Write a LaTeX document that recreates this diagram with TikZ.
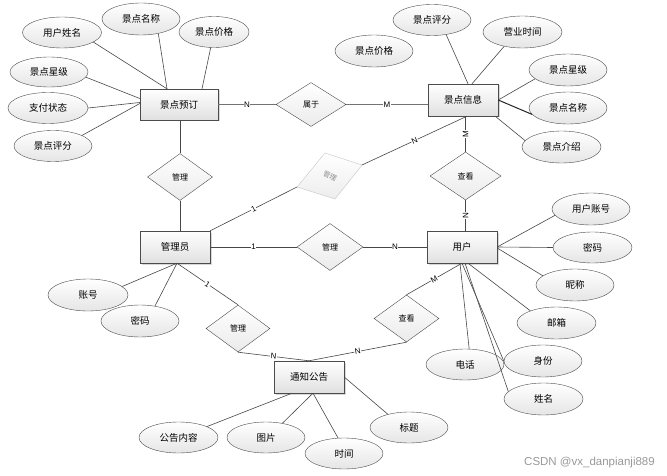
\documentclass[tikz,border=0pt]{standalone}
\usepackage{fontspec}
\setmainfont{Liberation Sans}
\newfontfamily\cjk{Noto Sans CJK SC}
\usetikzlibrary{shapes.geometric,calc,shadows}

\begin{document}
\begin{tikzpicture}[x=1pt,y=-1pt,
  ent/.style={draw=black!70, rectangle, minimum width=70pt, minimum height=32pt,
    top color=white, bottom color=black!12, inner sep=0pt,
    drop shadow={shadow xshift=1.5pt,shadow yshift=-1.5pt,opacity=0.3},
    font=\cjk\fontsize{9.5}{11}\selectfont},
  attr/.style={draw=black!70, ellipse, minimum width=78pt, minimum height=31pt,
    top color=white, bottom color=black!10, inner sep=0pt,
    font=\cjk\fontsize{9.5}{11}\selectfont},
  rel/.style={draw=black!70, diamond, minimum width=65pt, minimum height=47pt,
    top color=white, bottom color=black!8, inner sep=0pt,
    font=\cjk\fontsize{8}{9}\selectfont},
  conn/.style={draw=black!72, line width=0.6pt},
  thick conn/.style={draw=black!55, line width=1.1pt},
  lab/.style={fill=white, inner sep=0.5pt, font=\fontsize{8}{9}\selectfont},
  wm/.style={text=black!40, font=\fontsize{11.5}{13}\selectfont}
]
\fill[white] (0,0) rectangle (667,476);
\useasboundingbox (0,0) rectangle (667,476);

% entities
\node[ent, minimum width=78pt, minimum height=31pt] (jdyd) at (179,104.5) {景点预订};
\node[ent] (jdxx) at (463,100) {景点信息};
\node[ent] (gly) at (175,247) {管理员};
\node[ent] (yh) at (462,247) {用户};
\node[ent] (tzgg) at (309,377) {通知公告};

% relations
\node[rel, minimum width=70pt, minimum height=44pt] (sy) at (311,104.5) {属于};
\node[rel] (gl1) at (180,177) {管理};
\node[rel, minimum width=66pt, minimum height=47pt] (gl2) at (330,247) {管理};
\node[rel, minimum width=71pt, minimum height=48pt] (ck1) at (465.5,176) {查看};
\node[rel, minimum width=64pt] (gl3) at (238,328.5) {管理};
\node[rel] (ck2) at (406.5,318.5) {查看};

% pale rotated relation
\coordinate (pl) at (297,187);
\coordinate (pt) at (325,153);
\coordinate (pr) at (362,165);
\coordinate (pb) at (335,199);
\path[draw=black!22, top color=white, bottom color=black!7] (pl) -- (pt) -- (pr) -- (pb) -- cycle;
\node[text=black!45, rotate=-25, inner sep=0pt, font=\cjk\fontsize{7}{8}\selectfont] (glp) at (330,176) {管理};

% attributes of 景点预订
\node[attr, minimum width=79pt] (yhxm) at (62,32.5) {用户姓名};
\node[attr, minimum height=32pt] (jdmc1) at (141,19) {景点名称};
\node[attr, minimum width=70pt] (jdjg1) at (214,32) {景点价格};
\node[attr, minimum height=30pt] (jdxj1) at (49,72) {景点星级};
\node[attr, minimum width=80pt] (zfzt) at (48,108) {支付状态};
\node[attr] (jdpf1) at (53,146) {景点评分};

% attributes of 景点信息
\node[attr] (jdpf2) at (432,20) {景点评分};
\node[attr, minimum width=79pt, minimum height=32pt] (yysj) at (522.5,32) {营业时间};
\node[attr, minimum height=32pt] (jdjg2) at (374,51) {景点价格};
\node[attr, minimum height=32pt] (jdxj2) at (568,70) {景点星级};
\node[attr, minimum height=32pt] (jdmc2) at (568,108) {景点名称};
\node[attr, minimum width=79pt, minimum height=32pt] (jdjs) at (561.5,147) {景点介绍};

% attributes of 用户
\node[attr, minimum height=32pt] (yhzh) at (591,209) {用户账号};
\node[attr, minimum width=79pt] (mm2) at (592.5,247.5) {密码};
\node[attr, minimum height=32pt] (nc) at (575,285) {昵称};
\node[attr, minimum width=79pt, minimum height=32pt] (yx) at (556.5,323) {邮箱};
\node[attr] (dh) at (465,364.5) {电话};
\node[attr, minimum height=32pt] (sf) at (543,361) {身份};
\node[attr, minimum width=79pt, minimum height=32pt] (xm) at (543.5,399) {姓名};

% attributes of 管理员
\node[attr, minimum width=80pt, minimum height=32pt] (zh) at (88,295) {账号};
\node[attr, minimum height=32pt] (mm1) at (140,321) {密码};

% attributes of 通知公告
\node[attr, minimum width=79pt] (ggnr) at (178.5,437.5) {公告内容};
\node[attr] (tp) at (266,437.5) {图片};
\node[attr] (sj) at (344,453.5) {时间};
\node[attr] (bt) at (409,427.5) {标题};

% relationship connectors
\draw[thick conn] (jdyd.east) -- node[lab] {N} (sy.west);
\draw[thick conn] (sy.east) -- node[lab] {M} (sy.east -| jdxx.west);
\draw[conn] (jdyd.south -| gl1) -- (gl1.north);
\draw[conn] (gl1.south) -- (gl1.south |- gly.north);
\draw[conn] (gly.north east) -- node[lab, sloped] {1} (pl);
\draw[conn] (pr) -- node[lab, sloped] {N} ($(jdxx.south)+(4,0)$);
\draw[conn] (ck1.north |- jdxx.south) -- node[lab, rotate=90] {M} (ck1.north);
\draw[conn] (ck1.south) -- node[lab, rotate=90] {N} (ck1.south |- yh.north);
\draw[conn] (gly.east) -- node[lab] {1} (gl2.west);
\draw[conn] (gl2.east) -- node[lab] {N} (yh.west);
\draw[conn] ($(gly.south)+(2,0)$) -- node[lab, sloped] {1} (gl3.north);
\draw[conn] (gl3.south) -- node[lab, sloped] {N} (tzgg.north);
\draw[conn] (yh.south) -- node[lab, sloped] {M} (ck2.north);
\draw[conn] (ck2.south) -- node[lab, sloped] {N} (tzgg.north);

% attribute connectors: 景点预订
\draw[conn] (yhxm.-17) -- ($(jdyd.north)+(-12,0)$);
\draw[conn] (jdmc1.-40) -- ($(jdyd.north)+(-12,0)$);
\draw[conn] (jdjg1) -- ($(jdyd.north)+(23,0)$);
\draw[conn] (jdxj1.-8) -- ($(jdyd.west)+(0,-6)$);
\draw[conn] (zfzt.east) -- ($(jdyd.west)+(0,-2)$);
\draw[conn] (jdpf1.20) -- ($(jdyd.west)+(0,-1)$);

% 景点信息
\draw[conn] (jdpf2.-46) -- ($(jdxx.north)+(5,0)$);
\draw[conn] (yysj.218) -- ($(jdxx.north)+(9,0)$);
\draw[conn] (jdxj2.195) -- (jdxx.east);
\draw[conn, line width=1pt, draw=black!85] (jdmc2.190) -- (jdxx.east);
\draw[conn] (jdjs.170) -- ($(jdxx.south east)+(-3,0)$);

% 用户
\draw[conn] (yhzh.190) -- (yh.east);
\draw[conn] (mm2.west) -- (yh.east);
\draw[conn] (nc.164) -- ($(yh.east)+(0,1)$);
\draw[conn] (yx.155) -- ($(yh.south)+(6,0)$);
\draw[conn] (dh.75) -- ($(yh.south)+(-2,0)$);
\draw[conn] (sf.west) -- ($(yh.south)+(0,0)$);
\draw[conn] (xm.168) -- ($(yh.south)+(3,0)$);

% 管理员
\draw[conn] (zh.14) -- ($(gly.south)+(2,0)$);
\draw[conn] (mm1.45) -- ($(gly.south)+(2,0)$);

% 通知公告
\draw[conn] (ggnr.21) -- ($(tzgg.south)+(-17,0)$);
\draw[conn] (tp.41) -- ($(tzgg.south)+(4,0)$);
\draw[conn] (sj.111) -- ($(tzgg.south)+(4,0)$);
\draw[conn] (bt.148) -- (tzgg.east);

% watermark
\node[wm] (wmk) at (589.5,463) {CSDN @vx\_danpianji889};
\end{tikzpicture}
\end{document}
